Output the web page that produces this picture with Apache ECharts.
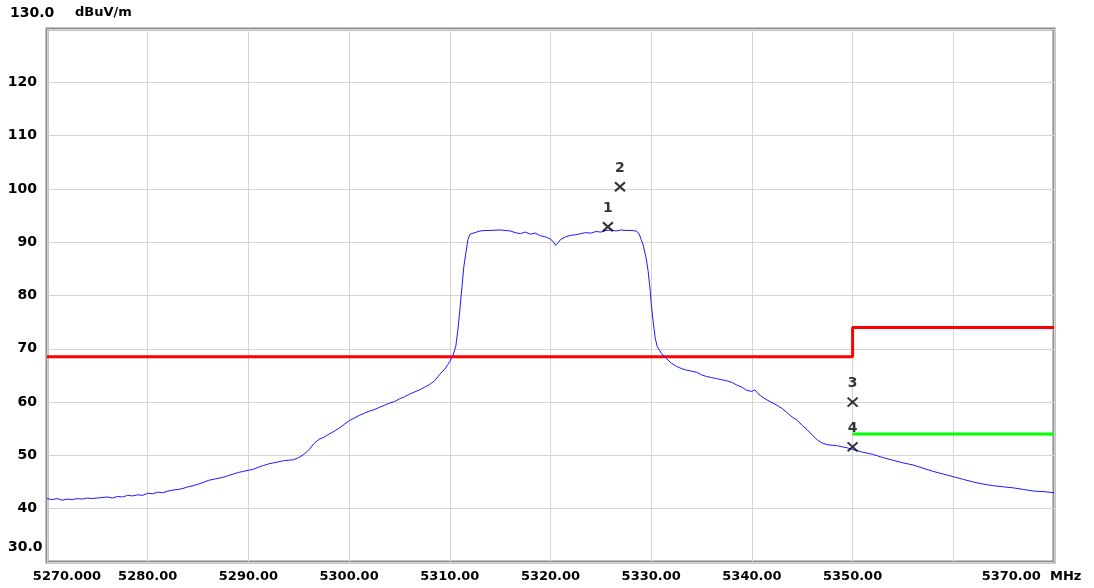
<!DOCTYPE html>
<html>
<head>
<meta charset="utf-8">
<script src="https://cdn.jsdelivr.net/npm/echarts@6/dist/echarts.min.js"></script>
<style>
html,body{margin:0;padding:0;background:#fff;}
#chart{width:1094px;height:588px;}
</style>
</head>
<body>
<div id="chart"></div>
<script>
// ---- data ----
var traceFreq = [
5270.0,5270.5,5271.0,5271.5,5272.0,5272.5,5273.0,5273.5,5274.0,5274.5,5275.0,5276.0,5276.5,5277.0,5277.5,5278.0,5278.5,5279.0,5279.5,
5280.0,5280.5,5281.0,5281.5,5282.0,5282.5,5283.0,5283.5,5284.0,5284.5,5285.0,5285.5,5286.0,5286.5,5287.0,5287.5,5288.0,5288.5,5289.0,5289.5,
5290.0,5290.5,5291.0,5291.5,5292.0,5292.5,5293.0,5293.5,5294.0,5294.5,5295.0,5295.5,5296.0,5296.5,5297.0,5297.5,5298.0,5298.5,5299.0,5299.5,
5300.0,5300.5,5301.0,5301.5,5302.0,5302.5,5303.0,5303.5,5304.0,5304.5,5305.0,5305.5,5306.0,5306.5,5307.0,5307.5,5308.0,5308.5,5309.0,5309.5,
5310.0,5310.3,5310.6,5310.8,5311.0,5311.2,5311.4,5311.6,5311.8,5312.0,5312.5,5313.0,5313.5,5314.0,5315.0,5316.0,5316.5,5317.0,5317.5,5318.0,5318.5,5319.0,5319.5,
5320.0,5320.3,5320.5,5320.8,5321.0,5321.5,5322.0,5322.5,5323.0,5323.5,5324.0,5324.5,5325.0,5325.5,5326.0,5326.5,5327.0,5327.5,5328.0,5328.5,5328.8,5329.0,5329.2,5329.5,5329.7,5329.9,
5330.0,5330.2,5330.4,5330.6,5331.0,5331.5,5332.0,5332.5,5333.0,5333.5,5334.0,5334.5,5335.0,5335.5,5336.0,5336.5,5337.0,5337.5,5338.0,5338.5,5339.0,5339.5,
5340.0,5340.3,5340.6,5341.0,5341.5,5342.0,5342.5,5343.0,5343.5,5344.0,5344.5,5345.0,5345.5,5346.0,5346.5,5347.0,5347.5,5348.0,5348.5,5349.0,5349.5,
5350.0,5351.0,5352.0,5353.0,5354.0,5355.0,5356.0,5357.0,5358.0,5359.0,5360.0,5361.0,5362.0,5363.0,5364.0,5365.0,5366.0,5367.0,5368.0,5369.0,5370.0
];
var traceLevel = [
41.9,41.7,41.9,41.6,41.8,41.7,41.9,41.8,42.0,41.9,42.0,42.2,42.0,42.3,42.2,42.5,42.4,42.6,42.5,
42.9,42.8,43.1,43.0,43.3,43.5,43.6,43.8,44.1,44.3,44.6,44.9,45.3,45.5,45.7,45.9,46.2,46.5,46.8,47.0,
47.2,47.4,47.8,48.1,48.4,48.6,48.8,49.0,49.1,49.2,49.6,50.2,51.0,52.2,53.0,53.4,54.0,54.5,55.1,55.8,
56.5,57.0,57.5,57.9,58.3,58.6,59.0,59.4,59.8,60.1,60.6,61.0,61.5,61.9,62.3,62.8,63.3,64.0,65.2,66.2,
67.6,68.7,70.5,73.5,77.3,81.5,85.5,88.0,90.5,91.5,91.8,92.1,92.2,92.2,92.3,92.1,91.8,91.6,91.9,91.5,91.7,91.2,91.0,
90.6,90.0,89.4,90.0,90.5,91.0,91.3,91.4,91.6,91.8,91.7,92.0,91.9,92.2,92.3,92.1,92.3,92.2,92.2,92.1,91.6,90.5,89.5,87.0,84.5,81.0,
78.6,75.0,72.0,70.4,69.2,68.2,67.3,66.7,66.3,66.0,65.8,65.6,65.1,64.8,64.6,64.4,64.2,64.0,63.7,63.2,62.8,62.2,
62.0,62.3,61.6,61.0,60.4,59.9,59.4,58.8,58.0,57.2,56.6,55.6,54.8,53.8,52.9,52.3,52.0,51.9,51.8,51.6,51.4,
51.1,50.6,50.2,49.6,49.1,48.6,48.2,47.6,47.0,46.5,46.0,45.5,45.0,44.6,44.3,44.1,43.9,43.6,43.3,43.2,43.0
];
var limitRedFreq  = [5270, 5350, 5350, 5370];
var limitRedLevel = [68.5, 68.5, 74.0, 74.0];
var limitGreenFreq  = [5350, 5370];
var limitGreenLevel = [54.0, 54.0];
var markerNames = ['1', '2', '3', '4'];
var markerFreq  = [5325.7, 5326.9, 5350.0, 5350.0];
var markerLevel = [92.9, 100.4, 60.0, 51.6];
var xTickValues = [5270, 5280, 5290, 5300, 5310, 5320, 5330, 5340, 5350, 5360, 5370];
var xTickLabels = ['5270.000', '5280.00', '5290.00', '5300.00', '5310.00', '5320.00', '5330.00', '5340.00', '5350.00', '', '5370.00'];
var xUnit = 'MHz';
var yTickValues = [30, 40, 50, 60, 70, 80, 90, 100, 110, 120, 130];
var yTickLabels = ['30.0', '40', '50', '60', '70', '80', '90', '100', '110', '120', '130.0'];
var yUnit = 'dBuV/m';

function zip(a, b) { return a.map(function (v, i) { return [v, b[i]]; }); }

var FONT = 'DejaVu Sans';
var chart = echarts.init(document.getElementById('chart'), null, { renderer: 'canvas' });

var option = {
  animation: false,
  backgroundColor: '#ffffff',
  grid: { left: 47, right: 40, top: 29, bottom: 26, show: true, borderColor: '#8c8c8c', borderWidth: 3, backgroundColor: 'transparent' },
  xAxis: {
    type: 'value', min: 5270, max: 5370, interval: 10,
    axisLine: { show: false }, axisTick: { show: false },
    splitLine: { show: true, lineStyle: { color: '#d4d4d4', width: 1 } },
    axisLabel: {
      margin: 8, color: '#000', fontFamily: FONT, fontWeight: 'bold', fontSize: 13,
      showMinLabel: true, showMaxLabel: true,
      formatter: function (v) {
        var i = xTickValues.indexOf(Math.round(v));
        if (i < 0) return '';
        var s = xTickLabels[i];
        if (s === '') return '';
        if (i === 0) return '{l|' + s + '}';
        if (i === xTickValues.length - 1) return '{r|' + s + '  ' + xUnit + '}';
        return s;
      },
      rich: {
        l: { fontFamily: FONT, fontWeight: 'bold', fontSize: 13, color: '#000', padding: [0, 0, 0, 40] },
        r: { fontFamily: FONT, fontWeight: 'bold', fontSize: 13, color: '#000', padding: [0, 45, 0, 0] }
      }
    }
  },
  yAxis: {
    type: 'value', min: 30, max: 130, interval: 10,
    axisLine: { show: false }, axisTick: { show: false },
    splitLine: { show: true, lineStyle: { color: '#d4d4d4', width: 1 } },
    axisLabel: {
      margin: 10, color: '#000', fontFamily: FONT, fontWeight: 'bold', fontSize: 14,
      formatter: function (v) {
        var i = yTickValues.indexOf(Math.round(v));
        if (i <= 0 || i === yTickValues.length - 1) return '';
        return yTickLabels[i];
      }
    }
  },
  series: [
    {
      type: 'line', data: zip(traceFreq, traceLevel), symbol: 'none',
      lineStyle: { color: '#1a1aff', width: 1 }, z: 3
    },
    {
      type: 'line', data: zip(limitRedFreq, limitRedLevel), symbol: 'none',
      lineStyle: { color: '#ff0000', width: 3 }, z: 2
    },
    {
      type: 'line', data: zip(limitGreenFreq, limitGreenLevel), symbol: 'none',
      lineStyle: { color: '#00ff00', width: 3 }, z: 2
    },
    {
      type: 'scatter', z: 5,
      data: markerFreq.map(function (f, i) { return { value: [f, markerLevel[i]], name: markerNames[i] }; }),
      symbol: 'path://M0,0L10,9M10,0L0,9', symbolSize: [10, 9],
      itemStyle: { color: 'none', borderColor: '#000', borderWidth: 2 },
      label: {
        show: true, position: 'top', distance: 5, formatter: '{b}',
        color: '#000', fontFamily: FONT, fontWeight: 'bold', fontSize: 14
      }
    }
  ],
  graphic: [
    { type: 'text', left: 10, top: 6, style: { text: yTickLabels[yTickLabels.length - 1], fill: '#000', font: 'bold 14px "' + FONT + '"' } },
    { type: 'text', left: 75, top: 6, style: { text: yUnit, fill: '#000', font: 'bold 13px "' + FONT + '"' } },
    { type: 'text', left: 8, top: 540, style: { text: yTickLabels[0], fill: '#000', font: 'bold 14px "' + FONT + '"' } }
  ]
};
chart.setOption(option);
</script>
</body>
</html>
